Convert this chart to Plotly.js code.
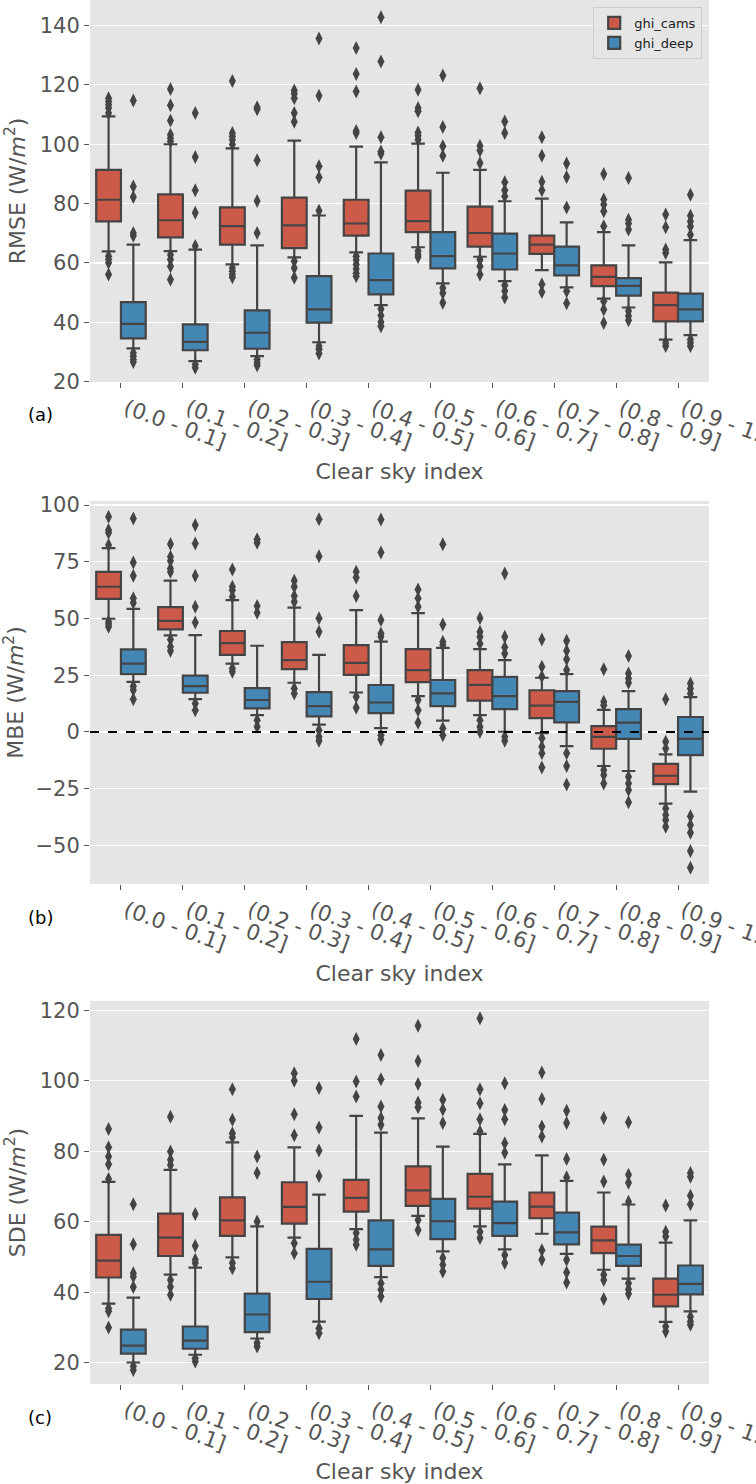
<!DOCTYPE html>
<html>
<head>
<meta charset="utf-8">
<script src="https://cdn.plot.ly/plotly-3.0.1.min.js"></script>
<style>
  html, body { margin: 0; padding: 0; background: #fff; }
  #chart { width: 756px; height: 1484px; }
</style>
</head>
<body>
<div id="chart"></div>
<script>
// Clear-sky-index bins (x categories)
const CATS = [
  "(0.0 - 0.1]", "(0.1 - 0.2]", "(0.2 - 0.3]", "(0.3 - 0.4]", "(0.4 - 0.5]",
  "(0.5 - 0.6]", "(0.6 - 0.7]", "(0.7 - 0.8]", "(0.8 - 0.9]", "(0.9 - 1.0]",
];

// Each box: [lower whisker, q1, median, q3, upper whisker]
const RMSE_CAMS = [
  [63.9, 74.0, 81.3, 91.4, 109.4], [64.0, 68.6, 74.4, 83.1, 100.0],
  [59.5, 66.2, 72.4, 78.7, 98.6], [61.9, 65.0, 72.7, 82.0, 101.2],
  [63.6, 69.2, 73.3, 81.3, 99.2], [65.3, 70.4, 74.1, 84.4, 100.2],
  [62.1, 65.5, 70.1, 79.0, 91.4], [57.6, 63.1, 66.2, 69.2, 81.7],
  [48.0, 52.2, 55.3, 59.2, 70.4], [34.2, 40.3, 45.8, 50.0, 60.2],
];
const RMSE_CAMS_OUT = [
  [115.5, 114.4, 113.3, 112.2, 110.5, 62.3, 61.2, 60.1, 56.1],
  [118.6, 113.1, 108.0, 103.2, 102.1, 101.0, 62.8, 61.2, 58.9, 54.4],
  [121.3, 103.8, 102.7, 101.5, 99.9, 58.3, 57.2, 56.1, 55.2],
  [118.1, 117.0, 115.5, 110.5, 107.6, 60.6, 58.3, 55.0],
  [132.4, 123.7, 117.8, 104.5, 103.8, 62.3, 61.0, 59.5, 58.0, 56.5, 55.5],
  [118.4, 112.2, 111.1, 104.0, 102.9, 101.5, 64.0, 62.8, 62.0],
  [118.9, 99.5, 97.9, 93.7, 61.1, 58.9, 56.1],
  [102.4, 96.1, 87.4, 84.5, 52.8, 50.2],
  [90.0, 81.4, 79.7, 77.4, 72.4, 47.1, 44.3, 39.8],
  [76.3, 72.0, 64.5, 63.4, 33.1, 32.0],
];
const RMSE_DEEP = [
  [31.2, 34.6, 39.5, 46.8, 66.2], [26.9, 30.6, 33.4, 39.3, 64.5],
  [28.6, 31.1, 36.5, 44.0, 65.9], [33.3, 39.9, 44.4, 55.6, 76.0],
  [45.8, 49.4, 54.2, 63.2, 93.9], [53.1, 58.2, 62.3, 70.4, 90.4],
  [53.9, 57.8, 63.2, 69.9, 80.8], [51.8, 55.8, 59.2, 65.5, 73.7],
  [45.0, 49.0, 52.3, 54.9, 65.9], [35.7, 40.3, 44.4, 49.7, 67.7],
];
const RMSE_DEEP_OUT = [
  [114.7, 85.8, 82.2, 70.1, 69.2, 29.7, 28.6, 27.5, 26.6],
  [110.5, 95.7, 84.5, 76.9, 65.7, 25.8, 24.7],
  [112.5, 111.8, 94.6, 80.9, 70.1, 27.5, 26.4, 25.5],
  [135.6, 116.3, 92.6, 88.9, 77.6, 32.0, 30.9, 29.5],
  [142.8, 127.9, 102.4, 97.6, 96.8, 44.5, 42.3, 40.1, 38.7],
  [123.2, 105.8, 99.3, 96.1, 51.6, 49.9, 46.6],
  [107.7, 103.8, 87.2, 84.5, 82.5, 52.5, 50.6, 48.4],
  [93.5, 89.0, 78.7, 50.5, 46.4],
  [88.6, 74.6, 73.3, 71.3, 43.8, 42.1, 40.7],
  [83.0, 75.9, 74.0, 72.3, 69.5, 34.2, 33.1, 32.0],
];

const MBE_CAMS = [
  [49.9, 58.7, 64.0, 70.6, 81.0], [42.6, 45.2, 49.0, 55.0, 66.7],
  [30.1, 34.0, 39.2, 44.5, 58.1], [21.7, 27.7, 31.7, 39.6, 54.8],
  [17.4, 25.2, 30.5, 38.3, 53.7], [15.8, 22.0, 27.3, 36.5, 52.4],
  [7.4, 13.8, 20.8, 27.3, 36.5], [-0.5, 6.1, 11.6, 18.4, 23.9],
  [-15.0, -7.4, -2.2, 2.6, 9.7], [-31.6, -23.0, -19.3, -14.1, -9.9],
];
const MBE_CAMS_OUT = [
  [94.9, 89.0, 87.8, 82.4, 48.6, 47.6, 46.4],
  [82.8, 77.2, 75.5, 72.1, 70.6, 40.8, 37.6, 35.8],
  [71.6, 64.0, 62.5, 59.6, 28.0, 26.5],
  [66.7, 64.0, 59.9, 57.4, 19.2, 17.0],
  [70.6, 68.1, 59.9, 15.5, 10.7],
  [62.8, 58.9, 55.2, 14.1, 9.6, 4.1],
  [50.2, 44.2, 42.0, 39.0, 5.2, 2.3, 0.1],
  [40.8, 28.8, 24.4, -2.8, -6.5, -9.4, -15.6],
  [27.6, 13.3, 11.8, -16.8, -19.0, -22.7],
  [14.4, -4.3, -7.3, -33.7, -36.6, -38.8, -41.8],
];
const MBE_DEEP = [
  [22.1, 25.5, 30.1, 36.4, 54.3], [14.5, 17.3, 20.2, 24.8, 42.7],
  [7.4, 10.4, 14.1, 19.3, 38.0], [3.2, 6.9, 11.4, 17.6, 34.0],
  [1.7, 8.3, 13.0, 20.7, 39.8], [5.0, 11.4, 17.0, 22.9, 37.1],
  [0.1, 10.1, 15.8, 24.3, 31.7], [-6.2, 4.2, 13.3, 18.0, 25.5],
  [-17.2, -3.0, 4.1, 10.1, 18.0], [-26.3, -10.2, -3.0, 6.6, 15.4],
];
const MBE_DEEP_OUT = [
  [94.1, 74.7, 68.9, 58.9, 57.0, 20.2, 18.5, 14.4],
  [91.2, 83.1, 68.9, 55.2, 48.3, 12.6, 9.6],
  [84.9, 83.4, 55.5, 52.5, 5.2, 2.3],
  [93.8, 77.4, 50.1, 44.2, 0.8, -2.1, -3.9],
  [93.7, 79.1, 49.3, 43.4, 42.0, -1.4, -3.3],
  [82.7, 47.4, 39.8, 38.3, 1.6, -1.4],
  [69.9, 42.0, 37.3, 34.6, -2.1, -3.9],
  [40.2, 35.8, 32.0, 27.3, -9.4, -15.0, -23.1],
  [33.5, 25.8, 23.6, 21.7, -19.7, -22.7, -25.6, -31.0],
  [21.4, 19.2, 17.0, -37.1, -41.0, -44.4, -52.5, -59.8],
];

const SDE_CAMS = [
  [36.8, 44.2, 49.0, 56.3, 71.3], [45.0, 50.3, 55.5, 62.3, 74.7],
  [49.9, 56.0, 60.4, 66.9, 82.5], [55.5, 59.5, 64.2, 71.2, 81.1],
  [57.9, 62.9, 66.8, 71.9, 90.0], [61.7, 64.5, 68.9, 75.7, 89.3],
  [58.7, 63.7, 67.1, 73.6, 84.9], [56.6, 61.0, 64.3, 68.3, 78.8],
  [46.4, 51.1, 54.7, 58.6, 68.3], [31.6, 36.0, 39.3, 43.9, 54.1],
];
const SDE_CAMS_OUT = [
  [86.3, 81.1, 78.5, 76.3, 72.1, 35.5, 34.6, 30.0],
  [89.8, 79.9, 77.6, 76.1, 43.5, 41.6, 39.3],
  [97.6, 88.9, 85.1, 84.0, 48.3, 46.8],
  [102.1, 100.0, 90.5, 84.5, 53.9, 51.1],
  [111.8, 99.8, 95.5, 56.8, 54.9, 53.5],
  [115.6, 105.6, 99.1, 93.8, 92.5, 60.5, 57.7],
  [117.7, 97.6, 93.6, 89.1, 85.6, 57.2, 55.4],
  [102.3, 94.8, 87.0, 84.2, 51.9, 49.2],
  [89.4, 77.6, 71.4, 45.0, 43.5, 38.1],
  [64.6, 57.2, 55.8, 30.3, 28.9],
];
const SDE_DEEP = [
  [20.1, 22.6, 24.9, 29.4, 38.5], [22.3, 24.0, 26.3, 30.3, 47.0],
  [26.9, 28.7, 33.7, 39.6, 58.7], [31.7, 38.1, 43.0, 52.3, 67.7],
  [44.3, 47.5, 52.2, 60.4, 85.3], [51.6, 55.1, 60.2, 66.5, 81.3],
  [52.2, 56.0, 59.6, 65.7, 76.3], [50.9, 53.6, 57.0, 62.6, 71.6],
  [43.9, 47.5, 50.3, 53.5, 64.9], [34.6, 39.4, 42.4, 47.6, 60.4],
];
const SDE_DEEP_OUT = [
  [65.0, 53.6, 45.4, 44.5, 41.5, 19.0, 18.0],
  [62.2, 53.2, 49.2, 48.3, 21.3, 20.4],
  [78.5, 73.8, 60.1, 25.6, 24.6],
  [97.9, 86.7, 80.2, 73.0, 29.8, 28.4],
  [107.3, 100.4, 92.7, 89.4, 87.5, 42.6, 40.7, 38.8],
  [94.6, 91.8, 88.0, 49.7, 47.8, 45.9],
  [99.3, 91.7, 89.1, 82.3, 79.6, 50.6, 48.3],
  [91.5, 88.0, 77.8, 72.6, 49.2, 45.6, 42.8],
  [88.2, 73.3, 71.1, 65.7, 42.6, 40.9, 39.6],
  [73.8, 72.8, 67.4, 65.0, 33.1, 31.7, 30.8],
];

const CAMS_COLOR = "#cc5a48";
const DEEP_COLOR = "#4486b4";
const EDGE = "#444444";
const FONT = "DejaVu Sans, sans-serif";

// box centres sit at category index +/- 0.2 (seaborn dodge, width .8)
function boxTrace(name, stats, color, offset, n, showlegend) {
  return {
    type: "box",
    name,
    showlegend,
    x: stats.map((_, i) => i + offset),
    lowerfence: stats.map((s) => s[0]),
    q1: stats.map((s) => s[1]),
    median: stats.map((s) => s[2]),
    q3: stats.map((s) => s[3]),
    upperfence: stats.map((s) => s[4]),
    width: 0.4,
    whiskerwidth: 0.55,
    boxpoints: false,
    fillcolor: color,
    line: { color: EDGE, width: 2.2 },
    xaxis: `x${n}`,
    yaxis: `y${n}`,
    hoverinfo: "skip",
  };
}

function outlierTrace(outs, offset, n) {
  const xs = [], ys = [];
  outs.forEach((vals, i) => vals.forEach((v) => { xs.push(i + offset); ys.push(v); }));
  return {
    type: "scatter",
    mode: "markers",
    x: xs,
    y: ys,
    showlegend: false,
    marker: { symbol: "diamond-tall", size: 10, color: EDGE },
    xaxis: `x${n}`,
    yaxis: `y${n}`,
    hoverinfo: "skip",
  };
}

const panels = [
  { cams: RMSE_CAMS, camsOut: RMSE_CAMS_OUT, deep: RMSE_DEEP, deepOut: RMSE_DEEP_OUT },
  { cams: MBE_CAMS, camsOut: MBE_CAMS_OUT, deep: MBE_DEEP, deepOut: MBE_DEEP_OUT },
  { cams: SDE_CAMS, camsOut: SDE_CAMS_OUT, deep: SDE_DEEP, deepOut: SDE_DEEP_OUT },
];

const traces = [];
panels.forEach((p, k) => {
  const n = k === 0 ? "" : String(k + 1);
  traces.push(boxTrace("ghi_cams", p.cams, CAMS_COLOR, -0.2, n, k === 0));
  traces.push(boxTrace("ghi_deep", p.deep, DEEP_COLOR, 0.2, n, k === 0));
  traces.push(outlierTrace(p.camsOut, -0.2, n));
  traces.push(outlierTrace(p.deepOut, 0.2, n));
});

// pixel rows of each plot area in the 1484px figure
const H = 1484;
const rows = [
  { top: 0, bottom: 382, range: [19.9, 148.6], tick0: 20, dtick: 20, title: "RMSE (W/<i>m</i><sup>2</sup>)", tag: "(a)" },
  { top: 501, bottom: 884, range: [-67, 101.8], tick0: 0, dtick: 25, title: "MBE (W/<i>m</i><sup>2</sup>)", tag: "(b)" },
  { top: 1001, bottom: 1384, range: [14.0, 122.6], tick0: 20, dtick: 20, title: "SDE (W/<i>m</i><sup>2</sup>)", tag: "(c)" },
];

const layout = {
  width: 756,
  height: H,
  margin: { l: 90, r: 47, t: 0, b: 0 },
  paper_bgcolor: "#ffffff",
  plot_bgcolor: "#e5e5e5",
  font: { family: FONT, size: 21, color: "#555555" },
  boxmode: "overlay",
  showlegend: true,
  legend: {
    x: 0.989, xanchor: "right", y: 1 - 7 / H, yanchor: "top",
    bgcolor: "rgba(229,229,229,0.8)", bordercolor: "#cccccc", borderwidth: 1,
    font: { size: 13, color: "#222222" },
    tracegroupgap: 0,
  },
  shapes: [
    {
      type: "line", xref: "x2 domain", yref: "y2",
      x0: 0, x1: 1, y0: 0, y1: 0,
      line: { color: "#000000", width: 2, dash: "dash" },
    },
  ],
  annotations: [],
};

rows.forEach((r, k) => {
  const n = k === 0 ? "" : String(k + 1);
  layout[`xaxis${n}`] = {
    anchor: `y${n}`,
    domain: [0, 1],
    range: [-0.5, 9.5],
    tickvals: CATS.map((_, i) => i),
    ticktext: CATS,
    tickangle: 20,
    ticklabeloverflow: "allow",
    ticklabelshift: 5,
    ticks: "outside",
    ticklen: 5,
    tickcolor: "#555555",
    tickfont: { size: 21.5, color: "#555555" },
    showgrid: false,
    zeroline: false,
    showline: false,
    title: { text: "Clear sky index", font: { size: 22, color: "#555555" }, standoff: 10 },
  };
  layout[`yaxis${n}`] = {
    anchor: `x${n}`,
    domain: [1 - r.bottom / H, 1 - r.top / H],
    range: r.range,
    tick0: r.tick0,
    dtick: r.dtick,
    ticks: "outside",
    ticklen: 5,
    tickcolor: "#555555",
    tickfont: { size: 21, color: "#555555" },
    showgrid: true,
    gridcolor: "#ffffff",
    gridwidth: 1.2,
    zeroline: false,
    showline: false,
    title: { text: r.title, font: { size: 22, color: "#555555" }, standoff: 8 },
  };
  layout.annotations.push({
    text: r.tag, xref: "paper", yref: "paper",
    x: (40 - 90) / 619, y: 1 - (r.bottom + 33) / H,
    xanchor: "center", yanchor: "middle", showarrow: false,
    font: { size: 18, color: "#000000" },
  });
});

Plotly.newPlot("chart", traces, layout, { displayModeBar: false, staticPlot: true });
</script>
</body>
</html>
